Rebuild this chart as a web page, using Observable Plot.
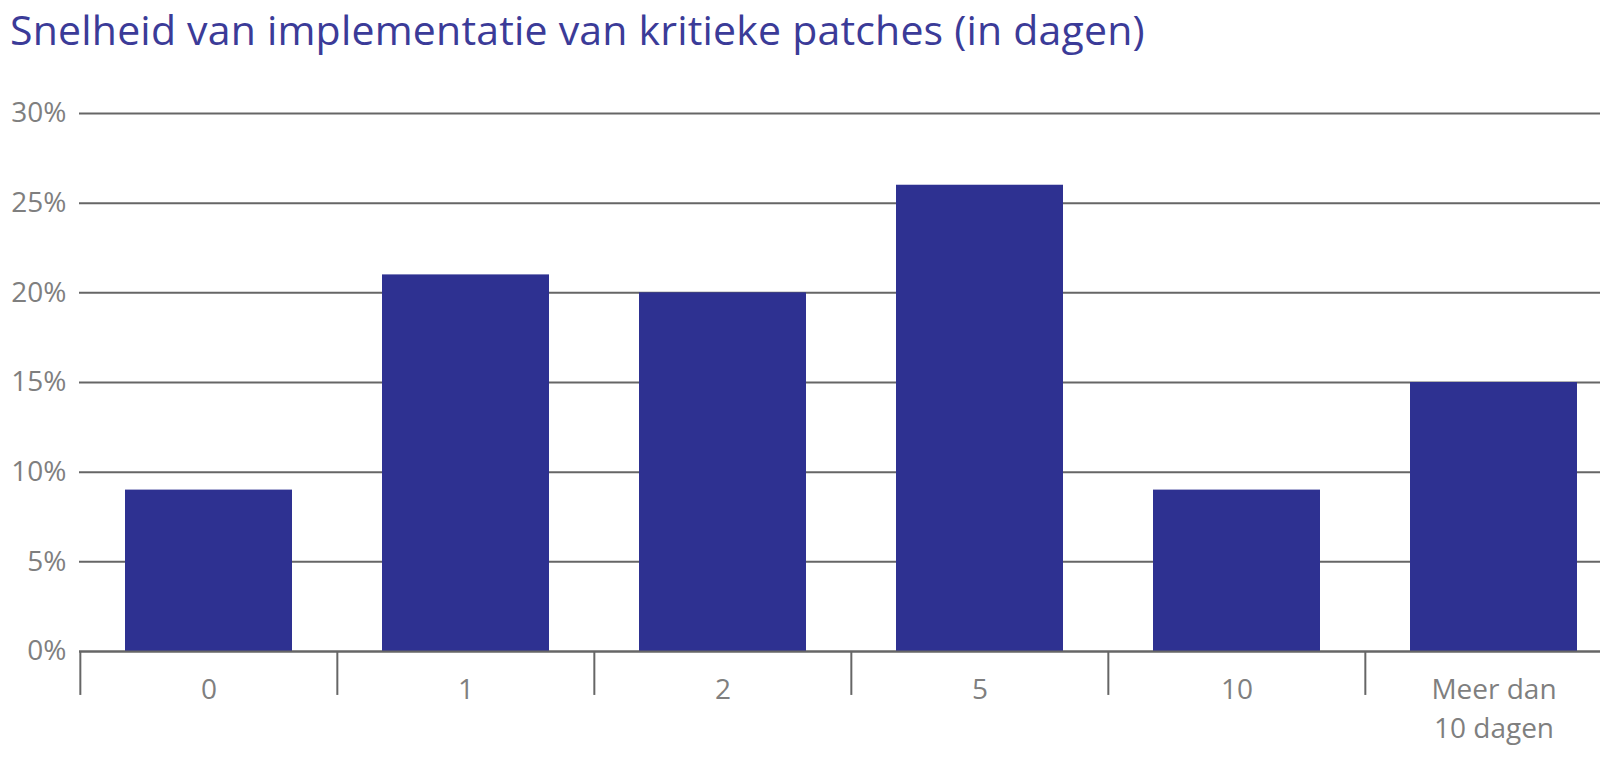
<!DOCTYPE html>
<html>
<head>
<meta charset="utf-8">
<script src="https://cdn.jsdelivr.net/npm/d3@7"></script>
<script src="https://cdn.jsdelivr.net/npm/@observablehq/plot@0.6"></script>
<style>
  html, body { margin: 0; padding: 0; background: #fff; overflow: hidden; width: 1600px; height: 757px; }
  #title { position: absolute; left: 10px; top: 0px; height: 60px; font-family: "Open Sans", sans-serif; font-size: 41px; color: #3b3b98; line-height: 58px; white-space: nowrap; letter-spacing: 0.2px; }
  #chart { position: absolute; left: 0; top: 60px; width: 1600px; height: 697px; overflow: hidden; }
  #chart svg { overflow: visible; max-width: none !important; width: 1600px; height: 697px; }
</style>
</head>
<body>
<div id="title">Snelheid van implementatie van kritieke patches (in dagen)</div>
<div id="chart"></div>
<script>
const categories = ["0", "1", "2", "5", "10", "Meer dan\n10 dagen"];
const values = [9, 21, 20, 26, 9, 15];
const yTicks = [0, 5, 10, 15, 20, 25, 30];

const data = categories.map((c, i) => ({category: c, value: values[i]}));

const xRange = [79, 1623];
const step = (xRange[1] - xRange[0]) / categories.length;
const gridColor = "#666666";
const textColor = "#7f7f7f";

const plot = Plot.plot({
  width: 1600,
  height: 697,
  marginTop: 53,
  marginBottom: 106,
  marginLeft: 79,
  marginRight: 0,
  style: {fontFamily: "Open Sans, sans-serif", background: "transparent"},
  x: {type: "band", domain: categories, range: xRange, paddingInner: 0.35, paddingOuter: 0.175, align: 0.5},
  y: {domain: [0, 30], range: [591, 53]},
  marks: [
    Plot.ruleY(yTicks, {stroke: gridColor, strokeWidth: 2}),
    Plot.barY(data, {x: "category", y: "value", fill: "#2e3191"}),
    Plot.ruleY([0], {stroke: gridColor, strokeWidth: 2}),
    Plot.ruleX(categories, {x: d => d, y1: 0, y2: -2.45, dx: -step / 2, stroke: gridColor, strokeWidth: 2}),
    Plot.axisY({ticks: yTicks, tickSize: 0, tickPadding: 13, tickFormat: d => d + "%", fontSize: 28, fill: textColor, label: null}),
    Plot.axisX({tickSize: 0, tickPadding: 20, fontSize: 28, fill: textColor, label: null, lineHeight: 1.38})
  ]
});
document.getElementById("chart").appendChild(plot);
</script>
</body>
</html>
